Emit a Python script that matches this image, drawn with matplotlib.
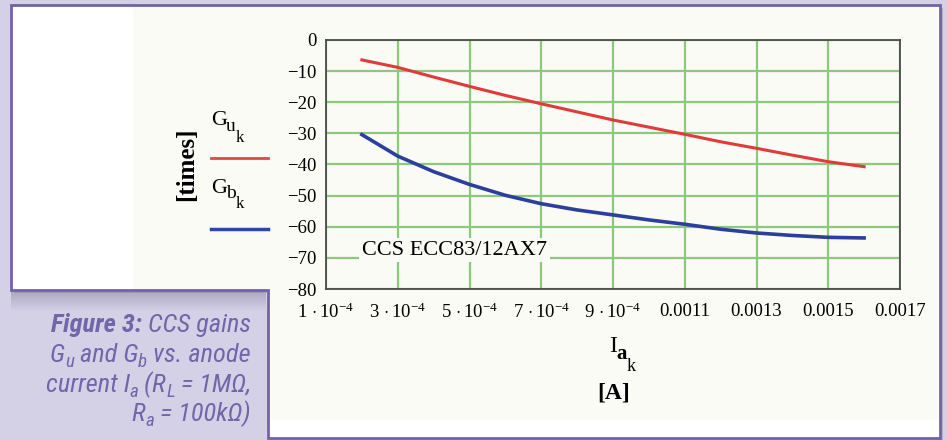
import numpy as np
import matplotlib
matplotlib.use("Agg")
import matplotlib.pyplot as plt
from matplotlib import font_manager
from matplotlib.patches import Polygon, Rectangle

# anode current [A] and the two gains [times]
ia = [2e-4, 3e-4, 4e-4, 5e-4, 6e-4, 7e-4, 8e-4, 9e-4, 1.0e-3,
      1.1e-3, 1.2e-3, 1.3e-3, 1.4e-3, 1.5e-3, 1.6e-3]
gu = [-6.4, -8.8, -11.9, -14.9, -17.8, -20.5, -23.1, -25.7, -28.0,
      -30.3, -32.7, -34.8, -37.0, -39.1, -40.7]
gb = [-30.4, -37.3, -42.3, -46.4, -49.9, -52.6, -54.6, -56.2, -57.8,
      -59.2, -60.8, -62.0, -62.8, -63.4, -63.6]

xticks = [1e-4, 3e-4, 5e-4, 7e-4, 9e-4, 1.1e-3, 1.3e-3, 1.5e-3, 1.7e-3]
xtick_labels = [r"$1\,\cdot 10^{-4}$", r"$3\,\cdot 10^{-4}$", r"$5\,\cdot 10^{-4}$",
                r"$7\,\cdot 10^{-4}$", r"$9\,\cdot 10^{-4}$",
                "0.0011", "0.0013", "0.0015", "0.0017"]
yticks = [0, -10, -20, -30, -40, -50, -60, -70, -80]

chart_note = "CCS ECC83/12AX7"
# Mathcad style names: (base, subscript, sub-subscript)
gu_name = ("G", "u", "k")
gb_name = ("G", "b", "k")
ia_name = ("I", "a", "k")
# caption pieces: (text, bold, subscript)
caption = [
    [("Figure 3:", True, False), (" CCS gains", False, False)],
    [("G", False, False), ("u", False, True), (" and G", False, False),
     ("b", False, True), (" vs. anode", False, False)],
    [("current I", False, False), ("a", False, True), (" (R", False, False),
     ("L", False, True), (" = 1M\u03a9,", False, False)],
    [("R", False, False), ("a", False, True), (" = 100k\u03a9)", False, False)],
]

LAV = "#d4d1e7"
PURPLE = "#7262a8"
CAP = "#7066a8"
SERIF = "Liberation Serif"

plt.rcParams["mathtext.fontset"] = "custom"
plt.rcParams["mathtext.rm"] = SERIF
plt.rcParams["mathtext.it"] = SERIF + ":italic"
plt.rcParams["mathtext.bf"] = SERIF + ":bold"

# a narrow sans with a real italic face, if there is one
italic_names = {f.name for f in font_manager.fontManager.ttflist if f.style == "italic"}
cap_font = next((n for n in ["Liberation Sans Narrow", "Roboto Condensed",
                             "Open Sans Condensed"] if n in italic_names), "Open Sans")

fig = plt.figure(figsize=(9.47, 4.40), dpi=100, facecolor=LAV)
renderer = fig.canvas.get_renderer()

# background layer in pixel coordinates
bg = fig.add_axes([0, 0, 1, 1], zorder=0)
bg.set_xlim(0, 947)
bg.set_ylim(440, 0)
bg.axis("off")

panel = [(11.3, 4.7), (940.3, 4.7), (940.3, 437.7), (267.8, 437.7),
         (267.8, 290.5), (11.3, 290.5)]
shadow = [(x + 3, y + 3) for x, y in panel]
bg.add_patch(Polygon(shadow, closed=True, facecolor="#9d99b2", edgecolor="none", alpha=0.6))
# soft shadow under the left part of the panel
grad = np.zeros((20, 2, 4))
grad[..., :3] = np.array([0.55, 0.53, 0.63])
grad[..., 3] = np.linspace(0.55, 0.0, 20)[:, None]
bg.imshow(grad, extent=[11, 266, 312, 291], aspect="auto", interpolation="bilinear", zorder=1)
face = Polygon(panel, closed=True, facecolor="white", edgecolor="none", zorder=2)
bg.add_patch(face)
tint = Rectangle((133, 7), 805, 413, facecolor="#fbfbf6", edgecolor="none", zorder=2)
bg.add_patch(tint)
tint.set_clip_path(face)
bg.add_patch(Polygon(panel, closed=True, facecolor="none", edgecolor=PURPLE,
                     linewidth=2.0, joinstyle="miter", zorder=3))


def mathcad_name(x, base_y, parts, sizes, drops, bold_sub=False):
    # base letter, then subscript and sub-subscript, each a bit lower
    for i, (txt, size, dy) in enumerate(zip(parts, sizes, drops)):
        t = bg.text(x, base_y + dy, txt, family=SERIF, fontsize=size,
                    fontweight="bold" if (bold_sub and i == 1) else "normal",
                    ha="left", va="baseline", zorder=4)
        x += t.get_window_extent(renderer).width - (1 if i == 0 else 0)


mathcad_name(211, 125, gu_name, [16, 14, 12], [0, 6, 17])
bg.plot([211, 268], [158, 158], color="#e04848", lw=2.0, zorder=4)
mathcad_name(211, 193, gb_name, [16, 14, 12], [0, 5, 15])
bg.plot([211, 268], [229, 229], color="#2e47a0", lw=2.5, zorder=4)
bg.text(187, 164, "[times]", family=SERIF, fontsize=18, fontweight="bold",
        rotation=90, ha="center", va="center", zorder=4)
mathcad_name(609, 352, ia_name, [17, 15, 13], [0, 7, 19], bold_sub=True)
bg.text(614, 393, "[A]", family=SERIF, fontsize=17, fontweight="bold",
        ha="center", va="center", zorder=4)

# caption, right aligned, laid out piece by piece
cap_size = 19 if cap_font != "Open Sans" else 14.5
baselines = [332, 362, 392, 421]
for line, base in zip(caption, baselines):
    x = 0
    pieces = []
    for txt, bold, sub in line:
        size = cap_size * (0.72 if sub else 1.0)
        t = bg.text(x, base + (5 if sub else 0), txt, family=cap_font, fontsize=size,
                    style="italic", fontweight="bold" if bold else "normal",
                    color=CAP, ha="left", va="baseline", zorder=4)
        x += t.get_window_extent(renderer).width
        pieces.append(t)
    shift = 251 - x
    for t in pieces:
        px, py = t.get_position()
        t.set_position((px + shift, py))

# the chart itself
ax = fig.add_axes([326 / 947, 1 - 289 / 440, (900 - 326) / 947, (289 - 40) / 440], zorder=5)
ax.patch.set_facecolor("#fbfbf6")
ax.plot(ia, gu, color="#e03a3a", lw=2.2, zorder=3)
ax.plot(ia, gb, color="#2c3f9c", lw=2.6, zorder=3)
ax.set_xlim(1e-4, 1.7e-3)
ax.set_ylim(-80, 0)
ax.set_xticks(xticks)
ax.set_xticklabels(xtick_labels)
ax.set_yticks(yticks)
ax.grid(True, color="#8cc97c", lw=1.6)
ax.set_axisbelow(True)
ax.tick_params(length=0, labelsize=13.5, pad=7)
ax.tick_params(axis="x", pad=10)
for lab in ax.get_xticklabels() + ax.get_yticklabels():
    lab.set_family(SERIF)
for sp in ax.spines.values():
    sp.set_color("#4a4a4a")
    sp.set_linewidth(1.3)
ax.text(2.0e-4, -67.5, chart_note, family=SERIF, fontsize=16, ha="left", va="center",
        bbox=dict(facecolor="#fbfbf6", edgecolor="none", pad=2), zorder=4)

fig.savefig("out.png", dpi=100, facecolor=LAV)
